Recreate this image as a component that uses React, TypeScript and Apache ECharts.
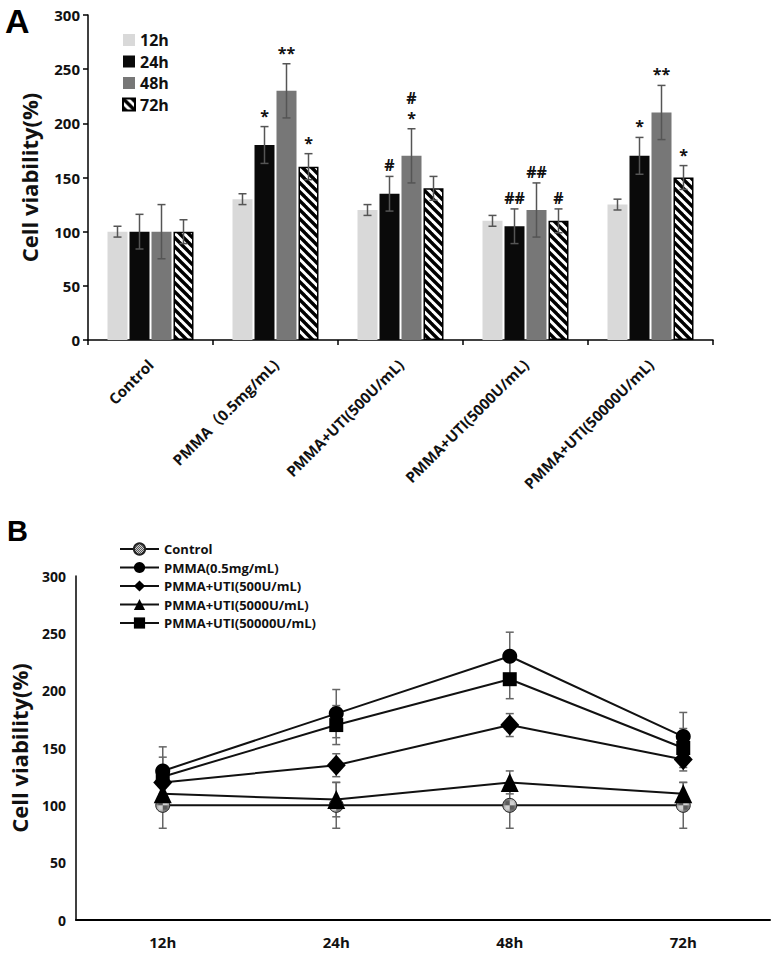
import React, { useEffect, useRef } from 'react';
import * as echarts from 'echarts';

// ---------- Panel A data ----------
const groupsA = ['Control', 'PMMA（0.5mg/mL)', 'PMMA+UTI(500U/mL)', 'PMMA+UTI(5000U/mL)', 'PMMA+UTI(50000U/mL)'];
const timesA = ['12h', '24h', '48h', '72h'];
const viab12h = [100, 130, 120, 110, 125];
const viab24h = [100, 180, 135, 105, 170];
const viab48h = [100, 230, 170, 120, 210];
const viab72h = [100, 160, 140, 110, 150];
const sd12h = [5, 5, 5, 5, 5];
const sd24h = [16, 17, 16, 16, 17];
const sd48h = [25, 25, 25, 25, 25];
const sd72h = [11, 12, 11, 11, 11];
// significance marks: first entry sits just above the error bar, second one above it
const sig12h = [[], [], [], [], []];
const sig24h = [[], ['*'], ['#'], ['##'], ['*']];
const sig48h = [[], ['**'], ['*', '#'], ['##'], ['**']];
const sig72h = [[], ['*'], [], ['#'], ['*']];

// ---------- Panel B data ----------
const timesB = ['12h', '24h', '48h', '72h'];
const groupsB = ['Control', 'PMMA(0.5mg/mL)', 'PMMA+UTI(500U/mL)', 'PMMA+UTI(5000U/mL)', 'PMMA+UTI(50000U/mL)'];
const lineControl = [100, 100, 100, 100];
const linePMMA = [130, 180, 230, 160];
const lineUTI500 = [120, 135, 170, 140];
const lineUTI5000 = [110, 105, 120, 110];
const lineUTI50000 = [125, 170, 210, 150];
const errControl = [20, 20, 20, 20];
const errPMMA = [21, 21, 21, 21];
const errUTI500 = [10, 10, 10, 10];
const errUTI5000 = [10, 15, 10, 10];
const errUTI50000 = [17, 17, 17, 17];

const FONT = "'Open Sans', 'Noto Sans CJK SC', sans-serif";
const LETTER_FONT = "'Liberation Sans', Arial, sans-serif";

function makeHatch(): HTMLCanvasElement {
  const c = document.createElement('canvas');
  const n = 9;
  c.width = n;
  c.height = n;
  const ctx = c.getContext('2d')!;
  ctx.fillStyle = '#ffffff';
  ctx.fillRect(0, 0, n, n);
  ctx.strokeStyle = '#000000';
  ctx.lineWidth = 3.4;
  for (let k = -1; k <= 1; k++) {
    ctx.beginPath();
    ctx.moveTo(-2, -2 + k * n);
    ctx.lineTo(n + 2, n + 2 + k * n);
    ctx.stroke();
  }
  return c;
}

function makeChecker(): HTMLCanvasElement {
  const c = document.createElement('canvas');
  c.width = 2;
  c.height = 2;
  const ctx = c.getContext('2d')!;
  ctx.fillStyle = '#d0d0d0';
  ctx.fillRect(0, 0, 2, 2);
  ctx.fillStyle = '#5a5a5a';
  ctx.fillRect(0, 0, 1, 1);
  ctx.fillRect(1, 1, 1, 1);
  return c;
}

export default function App() {
  const ref = useRef<HTMLDivElement>(null);

  useEffect(() => {
    if (!ref.current) return;
    const chart = echarts.init(ref.current, undefined, { renderer: 'svg' });
    const hatch = makeHatch();
    const checker = makeChecker();

    const valsA = [viab12h, viab24h, viab48h, viab72h];
    const sdsA = [sd12h, sd24h, sd48h, sd72h];
    const sigsA: string[][][] = [sig12h, sig24h, sig48h, sig72h];
    const barW = 20;
    const barGapPx = 2;

    const errDataA: number[][] = [];
    timesA.forEach((_, ti) => {
      groupsA.forEach((_, ci) => {
        errDataA.push([ci, valsA[ti][ci], sdsA[ti][ci], ti]);
      });
    });

    const linesB = [lineControl, linePMMA, lineUTI500, lineUTI5000, lineUTI50000];
    const errsB = [errControl, errPMMA, errUTI500, errUTI5000, errUTI50000];
    const errDataB: number[][] = [];
    groupsB.forEach((_, si) => {
      timesB.forEach((_, ti) => {
        errDataB.push([ti, linesB[si][ti], errsB[si][ti]]);
      });
    });

    const barStyles = [
      { color: '#d9d9d9' },
      { color: '#0a0a0a' },
      { color: '#777777' },
      { color: { image: hatch, repeat: 'repeat' }, borderColor: '#000', borderWidth: 1.5 },
    ];

    const markerDefs = [
      { symbol: 'circle', size: 14, itemStyle: { color: { image: checker, repeat: 'repeat' }, borderColor: '#222', borderWidth: 1 } },
      { symbol: 'circle', size: 15, itemStyle: { color: '#000' } },
      { symbol: 'diamond', size: [19, 21], itemStyle: { color: '#000' } },
      { symbol: 'triangle', size: [18, 19], itemStyle: { color: '#000' } },
      { symbol: 'rect', size: 14, itemStyle: { color: '#000' } },
    ];

    const axisText = { color: '#111', fontWeight: 'bold' as const, fontFamily: FONT };

    const option: any = {
      animation: false,
      backgroundColor: '#fff',
      textStyle: { fontFamily: FONT },
      graphic: [
        {
          type: 'text',
          style: {
            text: 'A', x: 5, y: 21, textVerticalAlign: 'middle', verticalAlign: 'middle',
            font: `bold 34px ${LETTER_FONT}`, fill: '#000',
          },
        },
        {
          type: 'text',
          style: {
            text: 'B', x: 7, y: 531, textVerticalAlign: 'middle', verticalAlign: 'middle',
            font: `bold 29px ${LETTER_FONT}`, fill: '#000',
          },
        },
      ],
      legend: [
        {
          data: timesA,
          orient: 'vertical',
          left: 117,
          top: 27,
          itemWidth: 12,
          itemHeight: 12,
          itemGap: 5.5,
          icon: 'rect',
          selectedMode: false,
          textStyle: { fontSize: 16, fontWeight: 'bold', color: '#111', fontFamily: FONT, lineHeight: 16 },
        },
        {
          data: groupsB,
          orient: 'vertical',
          left: 114,
          top: 537,
          itemWidth: 39,
          itemHeight: 14,
          itemGap: 4.5,
          selectedMode: false,
          textStyle: { fontSize: 13, fontWeight: 'bold', color: '#111', fontFamily: FONT, lineHeight: 14 },
        },
      ],
      grid: [
        { left: 88, top: 15, width: 625, height: 325 },
        { left: 74, top: 576, width: 696, height: 344 },
      ],
      xAxis: [
        {
          gridIndex: 0,
          type: 'category',
          data: groupsA,
          axisLine: { lineStyle: { color: '#000', width: 1.5 } },
          axisTick: { show: true, length: 5, lineStyle: { color: '#000', width: 1.5 } },
          axisLabel: { ...axisText, rotate: 45, margin: 22, fontSize: 15, interval: 0 },
        },
        {
          gridIndex: 1,
          type: 'category',
          data: timesB,
          axisLine: { lineStyle: { color: '#000', width: 2 } },
          axisTick: { show: false },
          axisLabel: { ...axisText, margin: 14, fontSize: 15 },
        },
      ],
      yAxis: [
        {
          gridIndex: 0,
          type: 'value',
          min: 0,
          max: 300,
          interval: 50,
          name: 'Cell viability(%)',
          nameLocation: 'middle',
          nameGap: 48,
          nameTextStyle: { ...axisText, fontSize: 22 },
          axisLine: { show: true, lineStyle: { color: '#000', width: 1.5 } },
          axisTick: { show: true, length: 5, lineStyle: { color: '#000', width: 1.5 } },
          splitLine: { show: false },
          axisLabel: { ...axisText, margin: 8, fontSize: 15 },
        },
        {
          gridIndex: 1,
          type: 'value',
          min: 0,
          max: 300,
          interval: 50,
          name: 'Cell viability(%)',
          nameLocation: 'middle',
          nameGap: 46,
          nameTextStyle: { ...axisText, fontSize: 22 },
          axisLine: { show: true, lineStyle: { color: '#000', width: 1.5 } },
          axisTick: { show: false },
          splitLine: { show: false },
          axisLabel: { ...axisText, margin: 10, fontSize: 14 },
        },
      ],
      series: [
        ...timesA.map((t, ti) => ({
          type: 'bar',
          name: t,
          xAxisIndex: 0,
          yAxisIndex: 0,
          data: valsA[ti],
          barWidth: barW,
          barGap: '10%',
          itemStyle: barStyles[ti],
          z: 2,
        })),
        {
          type: 'custom',
          name: 'errA',
          xAxisIndex: 0,
          yAxisIndex: 0,
          z: 5,
          data: errDataA,
          encode: { x: 0, y: 1 },
          renderItem: (params: any, api: any) => {
            const ci = api.value(0);
            const v = api.value(1);
            const e = api.value(2);
            const ti = api.value(3);
            const x = api.coord([ci, v])[0] + (ti - 1.5) * (barW + barGapPx);
            const top = api.coord([ci, v + e])[1];
            const bot = api.coord([ci, v - e])[1];
            const cap = 4;
            const st = { stroke: '#555', lineWidth: 1.5 };
            const children: any[] = [
              { type: 'line', shape: { x1: x, y1: top, x2: x, y2: bot }, style: st },
              { type: 'line', shape: { x1: x - cap, y1: top, x2: x + cap, y2: top }, style: st },
              { type: 'line', shape: { x1: x - cap, y1: bot, x2: x + cap, y2: bot }, style: st },
            ];
            const marks = sigsA[ti][ci] || [];
            marks.forEach((s, k) => {
              children.push({
                type: 'text',
                style: {
                  text: s,
                  x: x,
                  y: top - 3 - k * 20,
                  align: 'center',
                  verticalAlign: 'bottom',
                  textAlign: 'center',
                  textVerticalAlign: 'bottom',
                  font: `bold 16px ${FONT}`,
                  fill: '#111',
                },
              });
            });
            return { type: 'group', children };
          },
        },
        {
          type: 'custom',
          name: 'errB',
          xAxisIndex: 1,
          yAxisIndex: 1,
          z: 1,
          data: errDataB,
          encode: { x: 0, y: 1 },
          renderItem: (params: any, api: any) => {
            const ti = api.value(0);
            const v = api.value(1);
            const e = api.value(2);
            const x = api.coord([ti, v])[0];
            const top = api.coord([ti, v + e])[1];
            const bot = api.coord([ti, v - e])[1];
            const cap = 4;
            const st = { stroke: '#666', lineWidth: 1.5 };
            return {
              type: 'group',
              children: [
                { type: 'line', shape: { x1: x, y1: top, x2: x, y2: bot }, style: st },
                { type: 'line', shape: { x1: x - cap, y1: top, x2: x + cap, y2: top }, style: st },
                { type: 'line', shape: { x1: x - cap, y1: bot, x2: x + cap, y2: bot }, style: st },
              ],
            };
          },
        },
        ...groupsB.map((g, si) => ({
          type: 'line',
          name: g,
          xAxisIndex: 1,
          yAxisIndex: 1,
          data: linesB[si],
          symbol: markerDefs[si].symbol,
          symbolSize: markerDefs[si].size,
          showAllSymbol: true,
          lineStyle: { color: '#111', width: 2 },
          itemStyle: markerDefs[si].itemStyle,
          z: 3,
        })),
      ],
    };

    chart.setOption(option);
    return () => {
      chart.dispose();
    };
  }, []);

  return (
    <div
      ref={ref}
      style={{ position: 'absolute', left: 0, top: 0, width: 775, height: 955, background: '#fff' }}
    />
  );
}
